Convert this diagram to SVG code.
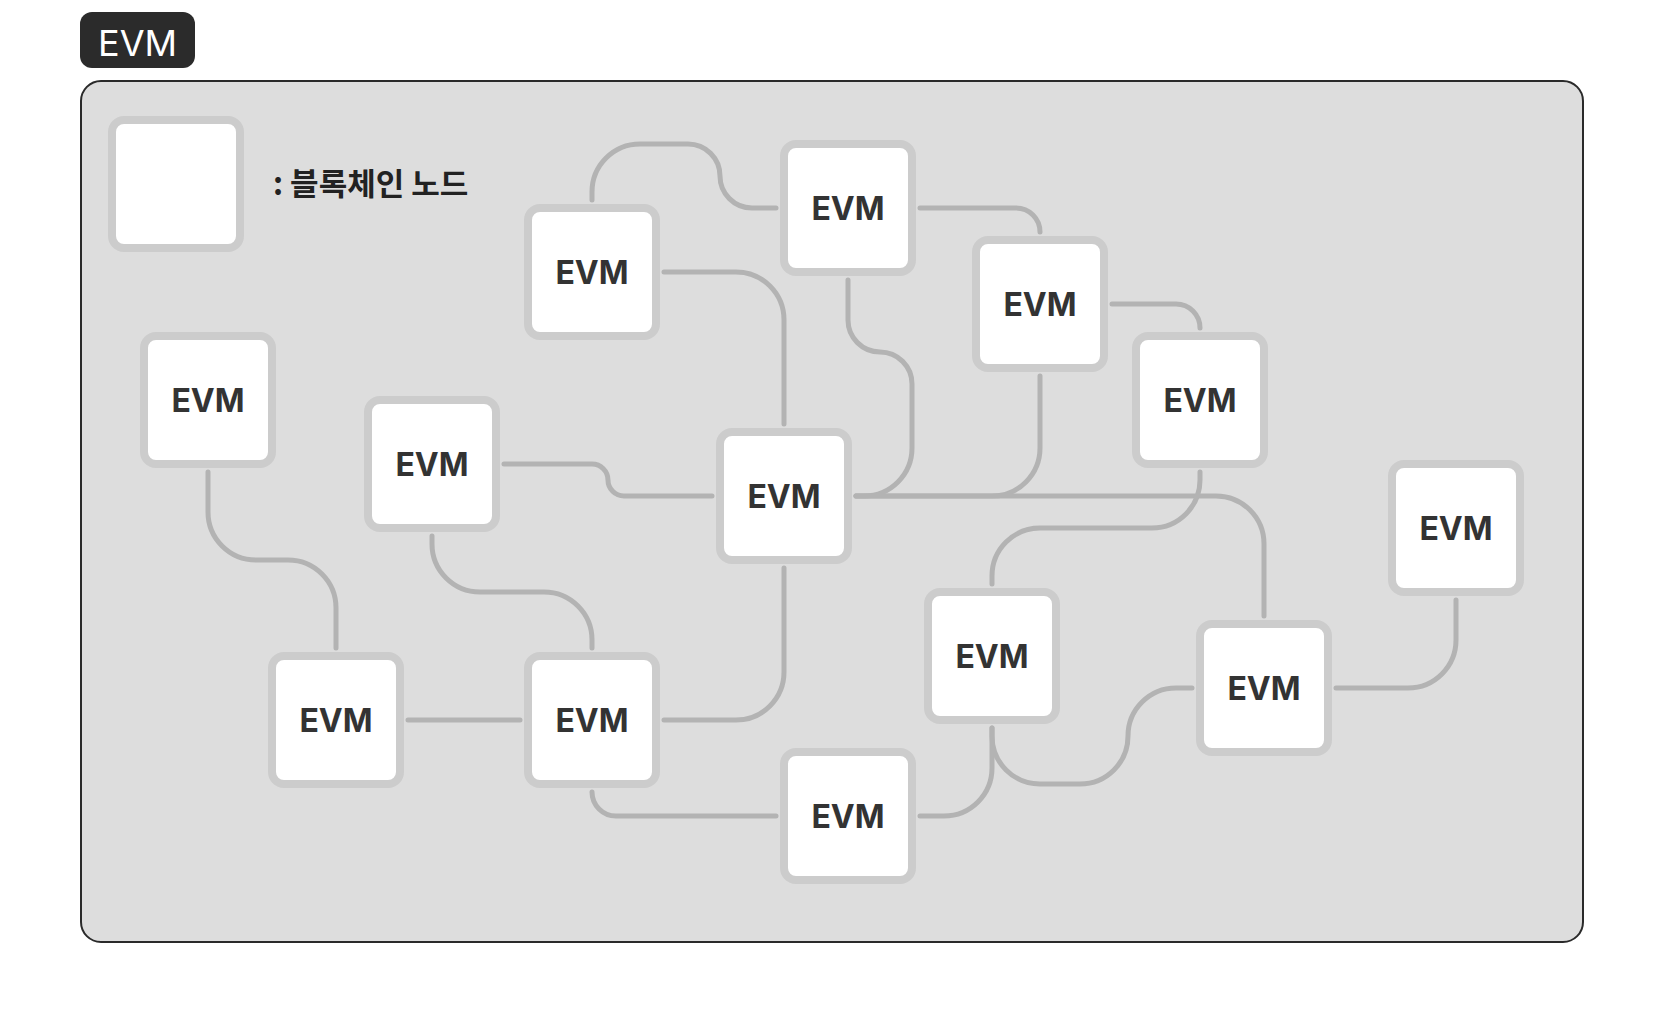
<svg xmlns="http://www.w3.org/2000/svg" width="1664" height="1024" viewBox="0 0 1664 1024">
<style>
.node rect{fill:#ffffff;stroke:#cccccc;stroke-width:8}
.node text{font-family:Inter,"Liberation Sans",sans-serif;font-weight:700;font-size:32px;fill:#333333;text-anchor:middle}
.conn path{fill:none;stroke:#b3b3b3;stroke-width:5;stroke-linecap:round}
</style>
<rect x="0" y="0" width="1664" height="1024" fill="#ffffff"/>
<g id="title">
<rect x="80" y="12" width="115" height="56" rx="12" fill="#2b2b2b"/>
<text x="137.5" y="56" font-family="Inter,'Liberation Sans',sans-serif" font-size="36" fill="#ffffff" text-anchor="middle">EVM</text>
</g>
<rect id="container" x="81" y="81" width="1502" height="861" rx="20" fill="#dddddd" stroke="#2a2a2a" stroke-width="2"/>
<g id="legend" class="node">
<rect x="112" y="120" width="128" height="128" rx="12"/>
<text x="273" y="195" style="font-family:'Noto Sans CJK KR','Noto Sans',sans-serif;font-size:31px;font-weight:700;fill:#222222;text-anchor:start">: 블록체인 노드</text>
</g>
<g id="connectors" class="conn">
<path d="M592,200 V192 A48,48 0 0 1 640,144 H688 A32,32 0 0 1 720,176 A32,32 0 0 0 752,208 H776"/>
<path d="M664,272 H736 A48,48 0 0 1 784,320 V424"/>
<path d="M920,208 H1016 A24,24 0 0 1 1040,232"/>
<path d="M848,280 V320 A32,32 0 0 0 880,352 A32,32 0 0 1 912,384 V448 A48,48 0 0 1 864,496 H856"/>
<path d="M1112,304 H1176 A24,24 0 0 1 1200,328"/>
<path d="M1040,376 V448 A48,48 0 0 1 992,496 H856"/>
<path d="M856,496 H1216 A48,48 0 0 1 1264,544 V616"/>
<path d="M1200,472 V480 A48,48 0 0 1 1152,528 H1040 A48,48 0 0 0 992,576 V584"/>
<path d="M992,728 V736 A48,48 0 0 0 1040,784 H1080 A48,48 0 0 0 1128,736 A48,48 0 0 1 1176,688 H1192"/>
<path d="M992,728 V768 A48,48 0 0 1 944,816 H920"/>
<path d="M1336,688 H1408 A48,48 0 0 0 1456,640 V600"/>
<path d="M504,464 H592 A16,16 0 0 1 608,480 A16,16 0 0 0 624,496 H712"/>
<path d="M208,472 V512 A48,48 0 0 0 256,560 H288 A48,48 0 0 1 336,608 V648"/>
<path d="M432,536 V544 A48,48 0 0 0 480,592 H544 A48,48 0 0 1 592,640 V648"/>
<path d="M408,720 H520"/>
<path d="M664,720 H736 A48,48 0 0 0 784,672 V568"/>
<path d="M592,792 A24,24 0 0 0 616,816 H776"/>
</g>
<g id="n1" class="node"><rect x="528" y="208" width="128" height="128" rx="12"/><text x="592" y="284">EVM</text></g>
<g id="n2" class="node"><rect x="784" y="144" width="128" height="128" rx="12"/><text x="848" y="220">EVM</text></g>
<g id="n3" class="node"><rect x="976" y="240" width="128" height="128" rx="12"/><text x="1040" y="316">EVM</text></g>
<g id="n4" class="node"><rect x="1136" y="336" width="128" height="128" rx="12"/><text x="1200" y="412">EVM</text></g>
<g id="n5" class="node"><rect x="144" y="336" width="128" height="128" rx="12"/><text x="208" y="412">EVM</text></g>
<g id="n6" class="node"><rect x="368" y="400" width="128" height="128" rx="12"/><text x="432" y="476">EVM</text></g>
<g id="n7" class="node"><rect x="720" y="432" width="128" height="128" rx="12"/><text x="784" y="508">EVM</text></g>
<g id="n8" class="node"><rect x="1392" y="464" width="128" height="128" rx="12"/><text x="1456" y="540">EVM</text></g>
<g id="n9" class="node"><rect x="928" y="592" width="128" height="128" rx="12"/><text x="992" y="668">EVM</text></g>
<g id="n10" class="node"><rect x="1200" y="624" width="128" height="128" rx="12"/><text x="1264" y="700">EVM</text></g>
<g id="n11" class="node"><rect x="272" y="656" width="128" height="128" rx="12"/><text x="336" y="732">EVM</text></g>
<g id="n12" class="node"><rect x="528" y="656" width="128" height="128" rx="12"/><text x="592" y="732">EVM</text></g>
<g id="n13" class="node"><rect x="784" y="752" width="128" height="128" rx="12"/><text x="848" y="828">EVM</text></g>
</svg>
